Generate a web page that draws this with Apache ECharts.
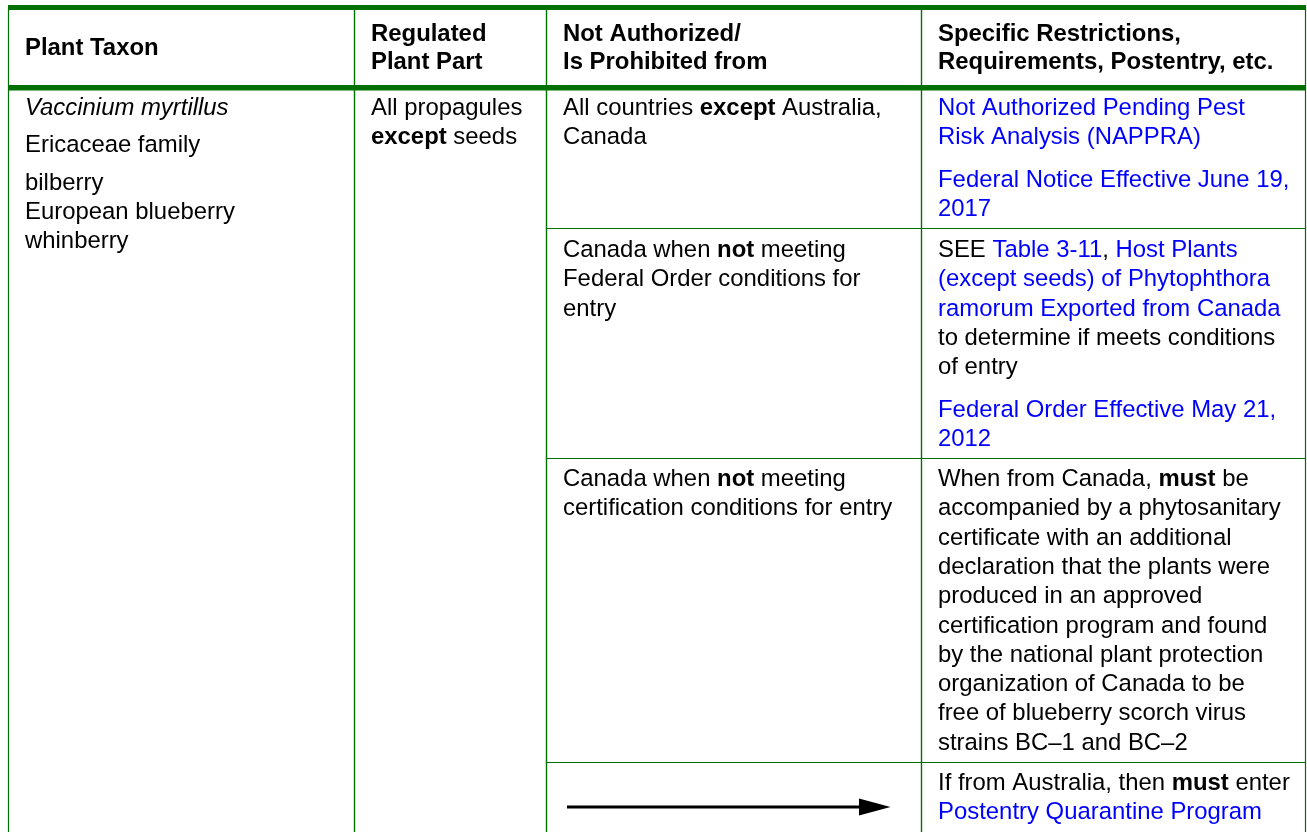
<!DOCTYPE html>
<html><head><meta charset="utf-8">
<script src="https://cdn.jsdelivr.net/npm/echarts@6/dist/echarts.min.js"></script>
<style>html,body{margin:0;padding:0;background:#fff}#c{width:1307px;height:832px}</style>
</head><body><div id="c"></div>
<script>
// ---------------- data ----------------
const headerLines = [
  ['Plant Taxon'],
  ['Regulated', 'Plant Part'],
  ['Not Authorized/', 'Is Prohibited from'],
  ['Specific Restrictions,', 'Requirements, Postentry, etc.']
];
const taxonParagraphs = [
  ['{i|Vaccinium myrtillus}'],
  ['Ericaceae family'],
  ['bilberry', 'European blueberry', 'whinberry']
];
const plantPartParagraphs = [
  ['All propagules', '{b|except} seeds']
];
const prohibitedFromCells = [
  [['All countries {b|except} Australia,', 'Canada']],
  [['Canada when {b|not} meeting', 'Federal Order conditions for', 'entry']],
  [['Canada when {b|not} meeting', 'certification conditions for entry']],
  'ARROW'
];
const restrictionCells = [
  [
    ['{a|Not Authorized Pending Pest}', '{a|Risk Analysis (NAPPRA)}'],
    ['{a|Federal Notice Effective June 19,}', '{a|2017}']
  ],
  [
    ['SEE {a|Table 3-11}, {a|Host Plants}', '{a|(except seeds) of Phytophthora}', '{a|ramorum Exported from Canada}', 'to determine if meets conditions', 'of entry'],
    ['{a|Federal Order Effective May 21,}', '{a|2012}']
  ],
  [
    ['When from Canada, {b|must} be', 'accompanied by a phytosanitary', 'certificate with an additional', 'declaration that the plants were', 'produced in an approved', 'certification program and found', 'by the national plant protection', 'organization of Canada to be', 'free of blueberry scorch virus', 'strains BC\u20131 and BC\u20132']
  ],
  [
    ['If from Australia, then {b|must} enter', '{a|Postentry Quarantine Program}']
  ]
];

// ---------------- layout / style ----------------
const W = 1307, H = 832;
const colEdges = [8.5, 354.5, 546.5, 921.5, 1305.5];
const rowEdges = [7.5, 88, 228.5, 458.5, 762.5, 900];
const topBand = [5, 10];
const headBand = [85, 90.5];
const GREEN = '#007000';
const BLUE = '#0000ff';
const FONT = '"Liberation Sans", Arial, sans-serif';
const FS = 23.9;
const LH = 29.3;
const HLH = 28;
const PAD_X = 16.5;
const textTopOffset = [0, 5.4, 7.3, 6.3, 6.1];
const paraGap = [8.2, 8.2, 8.2, 13.6];

const rich = {
  b: {fontWeight: 'bold', fontSize: FS, fontFamily: FONT, lineHeight: LH, fill: '#000'},
  i: {fontStyle: 'italic', fontSize: FS, fontFamily: FONT, lineHeight: LH, fill: '#000'},
  a: {fontSize: FS, fontFamily: FONT, lineHeight: LH, fill: BLUE}
};

// build cell list from the data arrays
const cells = [];
headerLines.forEach((lines, c) => cells.push({kind: 'header', c0: c, c1: c + 1, r0: 0, r1: 1, lines}));
cells.push({kind: 'body', c0: 0, c1: 1, r0: 1, r1: 5, paras: taxonParagraphs});
cells.push({kind: 'body', c0: 1, c1: 2, r0: 1, r1: 5, paras: plantPartParagraphs});
prohibitedFromCells.forEach((p, r) => cells.push(p === 'ARROW'
  ? {kind: 'arrow', c0: 2, c1: 3, r0: r + 1, r1: r + 2}
  : {kind: 'body', c0: 2, c1: 3, r0: r + 1, r1: r + 2, paras: p}));
restrictionCells.forEach((p, r) => cells.push({kind: 'body', c0: 3, c1: 4, r0: r + 1, r1: r + 2, paras: p}));

function renderItem(params, api) {
  const cell = cells[params.dataIndex];
  const p0 = api.coord([colEdges[cell.c0], rowEdges[cell.r0]]);
  const p1 = api.coord([colEdges[cell.c1], rowEdges[cell.r1]]);
  const children = [{
    type: 'rect',
    shape: {x: p0[0], y: p0[1], width: p1[0] - p0[0], height: p1[1] - p0[1]},
    style: {fill: 'none', stroke: GREEN, lineWidth: 1.2}
  }];
  if (cell.kind === 'header') {
    const mid = api.coord([0, (topBand[1] + headBand[0]) / 2 + 0.5]);
    children.push({
      type: 'text', x: p0[0] + PAD_X, y: mid[1],
      style: {
        text: cell.lines.join('\n'), x: 0, y: 0,
        fill: '#000', fontSize: FS, fontWeight: 'bold', fontFamily: FONT,
        lineHeight: HLH, align: 'left', verticalAlign: 'middle'
      }
    });
  } else if (cell.kind === 'body') {
    let y = rowEdges[cell.r0] + textTopOffset[cell.r0];
    cell.paras.forEach(lines => {
      const pt = api.coord([colEdges[cell.c0] + PAD_X, y]);
      children.push({
        type: 'text', x: pt[0], y: pt[1],
        style: {
          text: lines.join('\n'), x: 0, y: 0,
          fill: '#000', fontSize: FS, fontFamily: FONT,
          lineHeight: LH, align: 'left', verticalAlign: 'top', rich
        }
      });
      y += lines.length * LH + paraGap[cell.c0];
    });
  } else if (cell.kind === 'arrow') {
    const ay = rowEdges[cell.r0] + 44.5;
    const a0 = api.coord([colEdges[cell.c0] + 20.5, ay]);
    const a1 = api.coord([colEdges[cell.c1] - 62.5, ay]);
    const tip = api.coord([colEdges[cell.c1] - 31, ay]);
    children.push({type: 'line', shape: {x1: a0[0], y1: a0[1], x2: a1[0] + 2, y2: a1[1]},
      style: {stroke: '#000', lineWidth: 2.8}});
    children.push({type: 'polygon', shape: {points: [[a1[0], a1[1] - 8.5], [tip[0], tip[1]], [a1[0], a1[1] + 8.5]]},
      style: {fill: '#000'}});
  }
  return {type: 'group', children};
}

function renderBands(params, api) {
  const l = api.coord([colEdges[0] - 0.5, topBand[0]]);
  const r = api.coord([colEdges[colEdges.length - 1] + 0.5, topBand[1]]);
  const h0 = api.coord([0, headBand[0]]);
  const h1 = api.coord([0, headBand[1]]);
  return {type: 'group', children: [
    {type: 'rect', shape: {x: l[0], y: l[1], width: r[0] - l[0], height: r[1] - l[1]}, style: {fill: GREEN}},
    {type: 'rect', shape: {x: l[0], y: h0[1], width: r[0] - l[0], height: h1[1] - h0[1]}, style: {fill: GREEN}}
  ]};
}

const chart = echarts.init(document.getElementById('c'), null, {renderer: 'canvas'});
chart.setOption({
  animation: false,
  backgroundColor: '#fff',
  grid: {left: 0, right: 0, top: 0, bottom: 0},
  xAxis: {type: 'value', min: 0, max: W, show: false},
  yAxis: {type: 'value', min: 0, max: H, inverse: true, show: false},
  series: [
    {type: 'custom', clip: false, renderItem, silent: true,
      data: cells.map(c => [colEdges[c.c0], rowEdges[c.r0]])},
    {type: 'custom', clip: false, renderItem: renderBands, silent: true, data: [[0, 0]]}
  ]
});
</script>
</body></html>
